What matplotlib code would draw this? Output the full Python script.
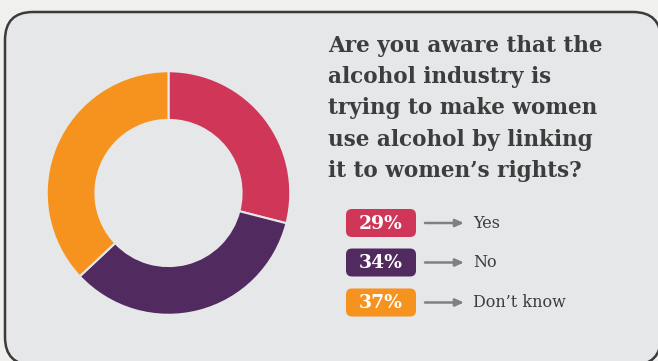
import matplotlib
matplotlib.use("Agg")
import matplotlib.pyplot as plt
from matplotlib.patches import FancyBboxPatch

# Survey results
answers = ["Yes", "No", "Don\u2019t know"]
shares = [29, 34, 37]
colors = ["#d03658", "#512b5f", "#f6931f"]
question_lines = [
    "Are you aware that the",
    "alcohol industry is",
    "trying to make women",
    "use alcohol by linking",
    "it to women\u2019s rights?",
]

W, H = 658, 361
fig = plt.figure(figsize=(W / 100, H / 100), dpi=100)
fig.patch.set_facecolor("#f0f0ee")

# Full-figure canvas in pixel coordinates (y downward)
canvas = fig.add_axes([0, 0, 1, 1])
canvas.set_xlim(0, W)
canvas.set_ylim(H, 0)
canvas.axis("off")

panel_fill = "#e6e7e9"
card = FancyBboxPatch((5, 12), 656, 353,
                      boxstyle="round,pad=0,rounding_size=28",
                      facecolor=panel_fill, edgecolor="#3b3b3b",
                      linewidth=1.8, clip_on=False)
canvas.add_patch(card)

# Donut
cx, cy, r = 168.5, 193, 123
pie_ax = fig.add_axes([(cx - r) / W, (H - cy - r) / H, 2 * r / W, 2 * r / H])
pie_ax.pie(shares, colors=colors, startangle=90, counterclock=False,
           radius=1.0,
           wedgeprops=dict(width=0.40, edgecolor=panel_fill, linewidth=1.5))
pie_ax.set_xlim(-1.01, 1.01)
pie_ax.set_ylim(-1.01, 1.01)
pie_ax.set_aspect("equal")
pie_ax.axis("off")

# Question text
serif = "DejaVu Serif"
for i, line in enumerate(question_lines):
    canvas.text(328, 52 + i * 31.2, line, fontsize=15.5, fontweight="bold",
                family=serif, color="#3d3d3d", va="baseline", ha="left")

# Legend rows: percentage badge, arrow, answer label
row_y = [223, 262.5, 302.5]
for yc, share, col, ans in zip(row_y, shares, colors, answers):
    badge = FancyBboxPatch((346, yc - 14), 70, 28,
                           boxstyle="round,pad=0,rounding_size=6",
                           facecolor=col, edgecolor="none")
    canvas.add_patch(badge)
    canvas.text(381, yc + 1, f"{share}%", fontsize=13.5, fontweight="bold",
                family=serif, color="white", ha="center", va="center")
    canvas.annotate("", xy=(464, yc), xytext=(425, yc),
                    arrowprops=dict(arrowstyle="-|>,head_length=0.5,head_width=0.22",
                                    color="#808080", lw=1.8,
                                    shrinkA=0, shrinkB=0))
    canvas.text(473, yc + 4.5, ans, fontsize=11.5, family=serif,
                color="#3d3d3d", ha="left", va="baseline")

fig.savefig("out.png", dpi=100, facecolor=fig.get_facecolor())
